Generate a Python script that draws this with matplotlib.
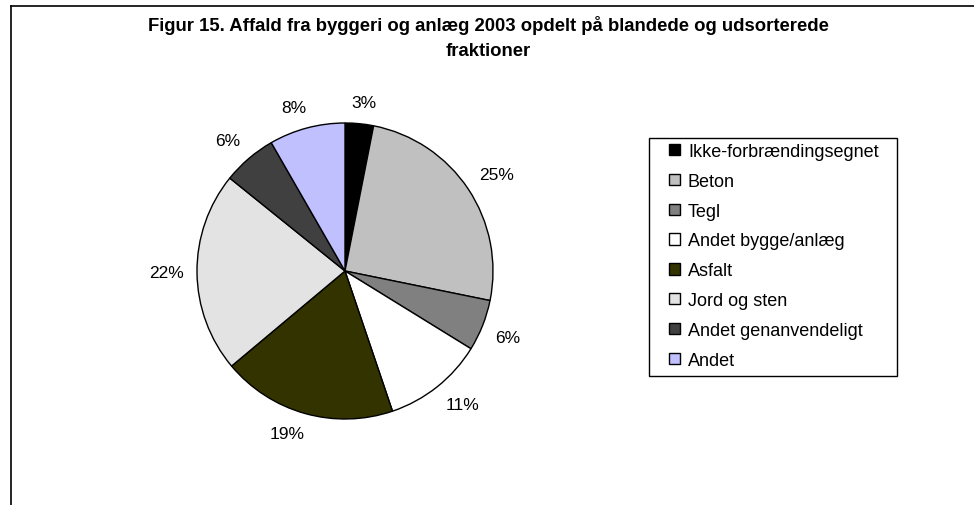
import matplotlib
matplotlib.use("Agg")
import numpy as np
import matplotlib.pyplot as plt
from matplotlib.lines import Line2D
from matplotlib.patches import Rectangle

plt.rcParams['font.family'] = ['Liberation Sans', 'DejaVu Sans']

categories = ["Ikke-forbrændingsegnet", "Beton", "Tegl", "Andet bygge/anlæg",
              "Asfalt", "Jord og sten", "Andet genanvendeligt", "Andet"]
values = [3.1, 25.1, 5.6, 11.0, 19.1, 21.9, 5.9, 8.3]
colors = ["#000000", "#C0C0C0", "#808080", "#FFFFFF",
          "#333300", "#E3E3E3", "#404040", "#C0C0FF"]
title = "Figur 15. Affald fra byggeri og anlæg 2003 opdelt på blandede og udsorterede\nfraktioner"

W, H = 974, 506
fig = plt.figure(figsize=(W / 100, H / 100), dpi=100)

cx, cy, r = 345, 272, 148
ax = fig.add_axes([(cx - r) / W, (H - cy - r) / H, 2 * r / W, 2 * r / H])
wedges, texts, autotexts = ax.pie(
    values, colors=colors, startangle=90, counterclock=False,
    autopct=lambda p: f"{p:.0f}%", pctdistance=1.15,
    wedgeprops=dict(edgecolor="black", linewidth=1.0),
    textprops=dict(fontsize=12.5, color="black"))
ax.set_xlim(-1, 1)
ax.set_ylim(-1, 1)
ax.set_aspect('auto')

# Excel-like "outside end" label placement: nearest corner of label box
# sits just outside the rim along the slice's mid angle
fig.canvas.draw()
renderer = fig.canvas.get_renderer()
px_per_unit = ax.transData.transform((1, 0))[0] - ax.transData.transform((0, 0))[0]
for w, t in zip(wedges, autotexts):
    t.set_clip_on(False)
    ang = np.deg2rad((w.theta1 + w.theta2) / 2)
    bb = t.get_window_extent(renderer)
    hw, hh = bb.width / 2 / px_per_unit, bb.height / 2 / px_per_unit
    c, s = np.cos(ang), np.sin(ang)
    R = 1.09
    x = R * c + np.clip(3 * c, -1, 1) * hw
    y = R * s + np.clip(3 * s, -1, 1) * hh
    t.set_position((x, y))
    t.set_ha("center")
    t.set_va("center")

fig.text(488 / W, 1 - 38 / H, title, ha="center", va="center",
         fontsize=13.3, fontweight="bold", linespacing=1.6)

leg = fig.legend(wedges, categories, loc="upper left",
                 bbox_to_anchor=(669 / W, 1 - 144 / H), frameon=False,
                 fontsize=13, handlelength=0.6,
                 handleheight=0.6, handletextpad=0.45, labelspacing=0.71,
                 borderpad=0, borderaxespad=0)
fig.add_artist(Rectangle((649 / W, 1 - 377 / H), 248 / W, 238 / H,
                         transform=fig.transFigure, facecolor="none",
                         edgecolor="black", linewidth=1.0))

# outer chart border (top and left; right and bottom cut off)
lx, ty = 11 / W, 1 - 7 / H
for xs, ys in [([lx, 1.01], [ty, ty]), ([lx, lx], [ty, -0.01])]:
    fig.add_artist(Line2D(xs, ys, color="black", linewidth=1.2,
                          transform=fig.transFigure))

fig.savefig("out.png", dpi=100)
